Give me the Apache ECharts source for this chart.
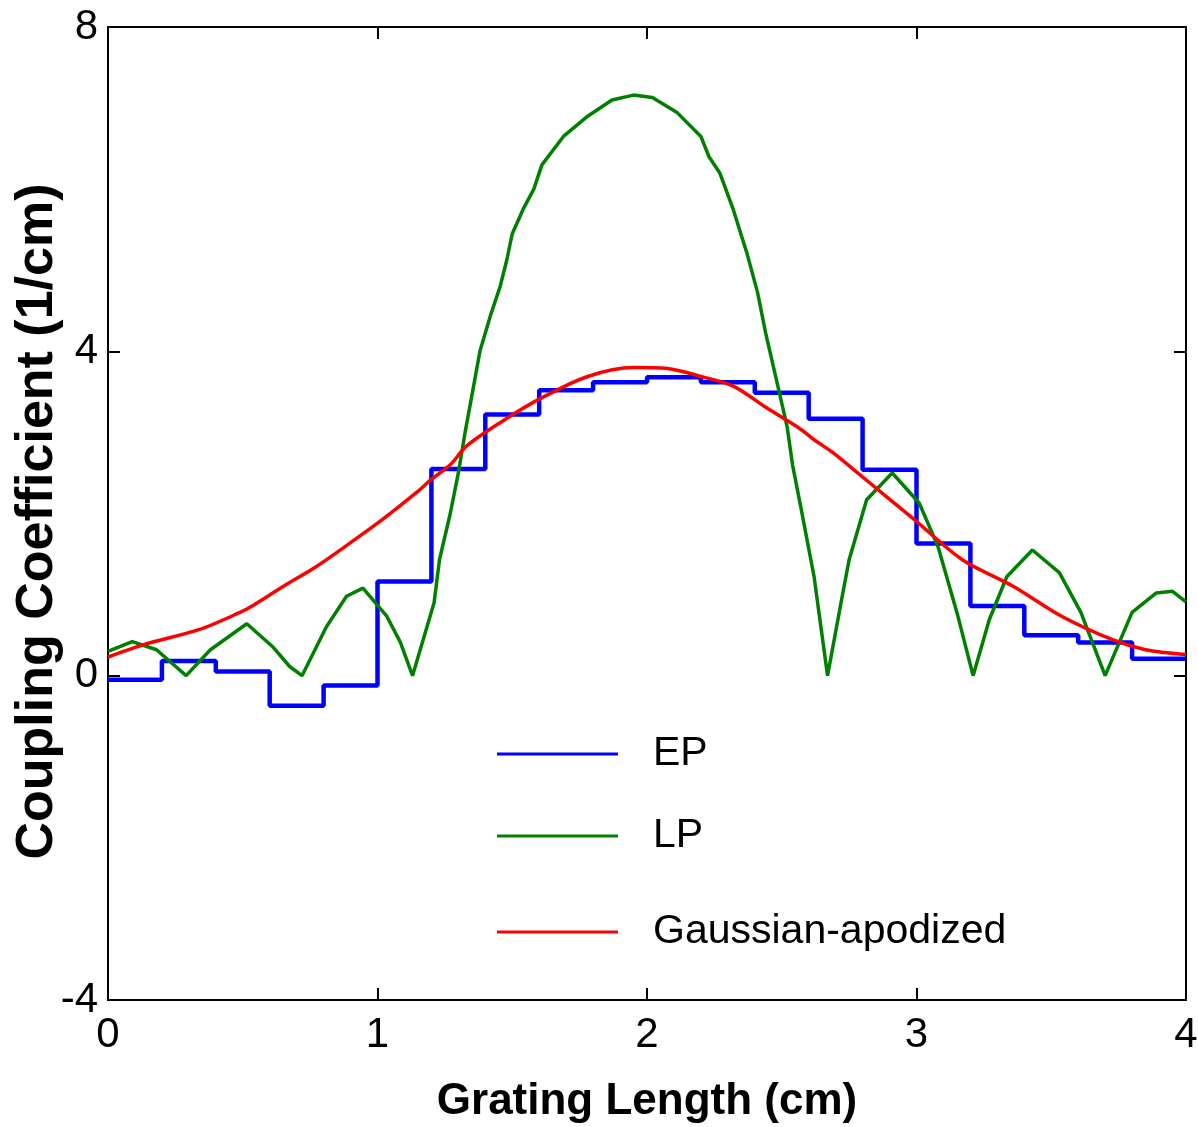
<!DOCTYPE html>
<html>
<head>
<meta charset="utf-8">
<script src="https://cdn.jsdelivr.net/npm/echarts@6/dist/echarts.min.js"></script>
<style>
html,body{margin:0;padding:0;background:#fff;}
#chart{width:1198px;height:1127px;}
</style>
</head>
<body>
<div id="chart"></div>
<script>
// ---- data ----
var xTicks = [0, 1, 2, 3, 4];
var yTicks = [-4, 0, 4, 8];

// EP: piecewise-constant, segment starts every 0.2 cm (last value repeated at x=4)
var epX = [0, 0.2, 0.4, 0.6, 0.8, 1.0, 1.2, 1.4, 1.6, 1.8, 2.0, 2.2, 2.4, 2.6, 2.8, 3.0, 3.2, 3.4, 3.6, 3.8, 4.0];
var epY = [-0.05, 0.18, 0.05, -0.37, -0.12, 1.16, 2.55, 3.22, 3.52, 3.62, 3.68, 3.62, 3.49, 3.17, 2.54, 1.63, 0.86, 0.50, 0.41, 0.21, 0.21];

// LP
var lpX = [0.0, 0.09, 0.18, 0.29, 0.38, 0.515, 0.61, 0.675, 0.72, 0.81, 0.885, 0.946, 1.035, 1.085, 1.13,
           1.21, 1.23, 1.27, 1.30, 1.325, 1.35, 1.38, 1.42, 1.455, 1.48, 1.50, 1.54, 1.58, 1.61, 1.69, 1.78, 1.87, 1.95,
           2.02, 2.11, 2.20, 2.23, 2.27, 2.32, 2.37, 2.41, 2.44, 2.48, 2.52, 2.54, 2.57, 2.62, 2.67,
           2.72, 2.75, 2.815, 2.91, 3.01, 3.08, 3.15, 3.21, 3.27, 3.335, 3.43, 3.53, 3.61, 3.70, 3.80, 3.89, 3.95, 4.0];
var lpY = [0.30, 0.42, 0.32, 0.0, 0.32, 0.64, 0.36, 0.11, 0.0, 0.60, 0.98, 1.08, 0.73, 0.41, 0.0,
           0.90, 1.43, 2.00, 2.50, 3.00, 3.45, 4.00, 4.45, 4.80, 5.13, 5.45, 5.75, 6.00, 6.30, 6.65, 6.90, 7.10, 7.16,
           7.13, 6.95, 6.65, 6.40, 6.20, 5.75, 5.22, 4.73, 4.23, 3.65, 3.07, 2.60, 2.09, 1.22, 0.0,
           0.90, 1.43, 2.17, 2.50, 2.13, 1.59, 0.78, 0.0, 0.69, 1.22, 1.55, 1.27, 0.78, 0.0, 0.78, 1.02, 1.04, 0.91];

// Gaussian-apodized
var gaX = [0, 0.13, 0.34, 0.49, 0.53, 0.65, 0.775, 0.90, 1.02, 1.145, 1.2, 1.27, 1.33, 1.455, 1.60, 1.78, 1.95,
           2.07, 2.20, 2.32, 2.445, 2.57, 2.62, 2.69, 2.80, 2.99, 3.17, 3.36, 3.54, 3.73, 3.85, 4.0];
var gaY = [0.23, 0.38, 0.57, 0.78, 0.85, 1.10, 1.35, 1.64, 1.93, 2.26, 2.42, 2.60, 2.83, 3.12, 3.41, 3.69, 3.80,
           3.79, 3.69, 3.57, 3.30, 3.04, 2.91, 2.75, 2.45, 1.93, 1.43, 1.10, 0.73, 0.44, 0.32, 0.26];

var seriesNames = ['EP', 'LP', 'Gaussian-apodized'];

function pairs(xs, ys) { return xs.map(function (x, i) { return [x, ys[i]]; }); }

var FONT = '"Liberation Sans", Arial, sans-serif';
var chart = echarts.init(document.getElementById('chart'), null, {renderer: 'canvas'});

function legendFor(name, top) {
  return {
    data: [name],
    left: 497, top: top, padding: 0,
    icon: 'rect', itemWidth: 121, itemHeight: 3,
    selectedMode: false,
    textStyle: {fontFamily: FONT, fontSize: 41, color: '#000', lineHeight: 40, padding: [0, 0, 14, 30]}
  };
}

var axisLine = {show: true, onZero: false, lineStyle: {color: '#000', width: 2}};
var axisTick = {show: true, inside: true, length: 12, lineStyle: {color: '#000', width: 2}};

chart.setOption({
  animation: false,
  backgroundColor: '#fff',
  grid: {left: 108, right: 12, top: 27, bottom: 127, containLabel: false, outerBoundsMode: 'none'},
  legend: [legendFor(seriesNames[0], 727), legendFor(seriesNames[1], 809), legendFor(seriesNames[2], 905)],
  xAxis: [{
    type: 'value', min: 0, max: 4, interval: 1, position: 'bottom',
    axisLine: axisLine, axisTick: axisTick, splitLine: {show: false},
    axisLabel: {fontFamily: FONT, fontSize: 42, color: '#000', margin: 14},
    name: 'Grating Length (cm)', nameLocation: 'middle', nameGap: 80, nameMoveOverlap: false,
    nameTextStyle: {fontFamily: FONT, fontSize: 44, fontWeight: 'bold', color: '#000'}
  }, {
    type: 'value', min: 0, max: 4, interval: 1, position: 'top',
    axisLine: axisLine, axisTick: axisTick, axisLabel: {show: false}, splitLine: {show: false}
  }],
  yAxis: [{
    type: 'value', min: -4, max: 8, interval: 4, position: 'left',
    axisLine: axisLine, axisTick: axisTick, splitLine: {show: false},
    axisLabel: {fontFamily: FONT, fontSize: 42, color: '#000', margin: 10},
    name: 'Coupling Coefficient (1/cm)', nameLocation: 'middle', nameGap: 44, nameMoveOverlap: false,
    nameTextStyle: {fontFamily: FONT, fontSize: 52, fontWeight: 'bold', color: '#000', padding: [0, 16, 0, 0]}
  }, {
    type: 'value', min: -4, max: 8, interval: 4, position: 'right',
    axisLine: axisLine, axisTick: axisTick, axisLabel: {show: false}, splitLine: {show: false}
  }],
  series: [{
    name: seriesNames[0], type: 'line', step: 'end', showSymbol: false,
    data: pairs(epX, epY), color: '#0000ff', lineStyle: {color: '#0000ff', width: 4.5}
  }, {
    name: seriesNames[1], type: 'line', showSymbol: false,
    data: pairs(lpX, lpY), color: '#008000', lineStyle: {color: '#008000', width: 3.5}
  }, {
    name: seriesNames[2], type: 'line', showSymbol: false, smooth: 0.3,
    data: pairs(gaX, gaY), color: '#ff0000', lineStyle: {color: '#ff0000', width: 3.5}
  }]
});
</script>
</body>
</html>
